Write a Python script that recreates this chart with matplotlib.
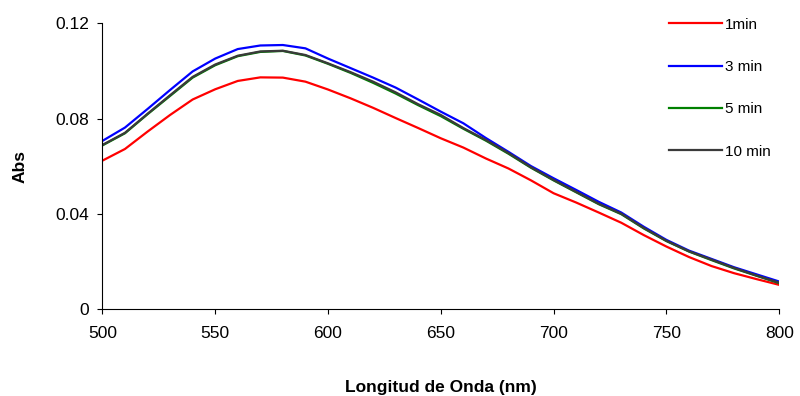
import matplotlib
matplotlib.use("Agg")
import matplotlib.pyplot as plt

# wavelength (nm) and absorbance
wavelength = [500, 510, 520, 530, 540, 550, 560, 570, 580, 590,
              600, 610, 620, 630, 640, 650, 660, 670, 680, 690,
              700, 710, 720, 730, 740, 750, 760, 770, 780, 790, 800]

abs_1min = [0.0623, 0.0672, 0.0745, 0.0815, 0.0880, 0.0923, 0.0958, 0.0973, 0.0972, 0.0955,
            0.0922, 0.0885, 0.0845, 0.0802, 0.0760, 0.0717, 0.0678, 0.0632, 0.0590, 0.0540,
            0.0486, 0.0447, 0.0405, 0.0362, 0.0310, 0.0262, 0.0218, 0.0180, 0.0150, 0.0125, 0.0101]

abs_3min = [0.0706, 0.0762, 0.0840, 0.0920, 0.0998, 0.1052, 0.1092, 0.1107, 0.1109, 0.1095,
            0.1052, 0.1012, 0.0972, 0.0930, 0.0880, 0.0829, 0.0780, 0.0718, 0.0660, 0.0600,
            0.0549, 0.0500, 0.0450, 0.0405, 0.0345, 0.0290, 0.0245, 0.0210, 0.0175, 0.0145, 0.0115]

abs_5min = [0.0687, 0.0738, 0.0818, 0.0895, 0.0972, 0.1024, 0.1062, 0.1080, 0.1084, 0.1065,
            0.1030, 0.0992, 0.0950, 0.0905, 0.0856, 0.0810, 0.0757, 0.0707, 0.0652, 0.0593,
            0.0540, 0.0490, 0.0440, 0.0398, 0.0338, 0.0285, 0.0241, 0.0205, 0.0170, 0.0139, 0.0108]

abs_10min = [0.0689, 0.0740, 0.0820, 0.0898, 0.0975, 0.1027, 0.1064, 0.1082, 0.1085, 0.1067,
             0.1032, 0.0995, 0.0955, 0.0910, 0.0860, 0.0815, 0.0760, 0.0710, 0.0655, 0.0595,
             0.0542, 0.0492, 0.0442, 0.0400, 0.0340, 0.0286, 0.0242, 0.0207, 0.0172, 0.0140, 0.0110]

labels = ["1min", "3 min", "5 min", "10 min"]
colors = ["#ff0000", "#0000ff", "#008000", "#3a3a3a"]

x_ticks = [500, 550, 600, 650, 700, 750, 800]
y_ticks = [0, 0.04, 0.08, 0.12]
y_tick_labels = ["0", "0.04", "0.08", "0.12"]

plt.rcParams["font.family"] = ["Liberation Sans", "DejaVu Sans"]

fig = plt.figure(figsize=(8, 3.96), dpi=100)
ax = fig.add_axes([0.128, 0.22, 0.846, 0.721])

series = [abs_1min, abs_3min, abs_5min, abs_10min]
for vals, lab, col in zip(series, labels, colors):
    ax.plot(wavelength, vals, color=col, lw=1.6, label=lab)

ax.set_xlim(500, 800)
ax.set_ylim(0, 0.12)
ax.set_xticks(x_ticks)
ax.set_yticks(y_ticks)
ax.set_yticklabels(y_tick_labels)
ax.tick_params(direction="out", length=3.5, width=0.8, labelsize=12.5, pad=6)
ax.tick_params(axis="x", pad=9)

for side in ["top", "right"]:
    ax.spines[side].set_visible(False)
for side in ["left", "bottom"]:
    ax.spines[side].set_linewidth(0.8)

ax.set_xlabel("Longitud de Onda (nm)", fontsize=12.5, fontweight="bold", labelpad=28)
ax.set_ylabel("Abs", fontsize=12.5, fontweight="bold", labelpad=20)

fig.legend(loc="upper left", bbox_to_anchor=(0.836, 0.955), frameon=False,
           fontsize=11, handlelength=3.5, handletextpad=0.2, labelspacing=1.85,
           borderpad=0, borderaxespad=0)

fig.savefig("out.png", dpi=100)
